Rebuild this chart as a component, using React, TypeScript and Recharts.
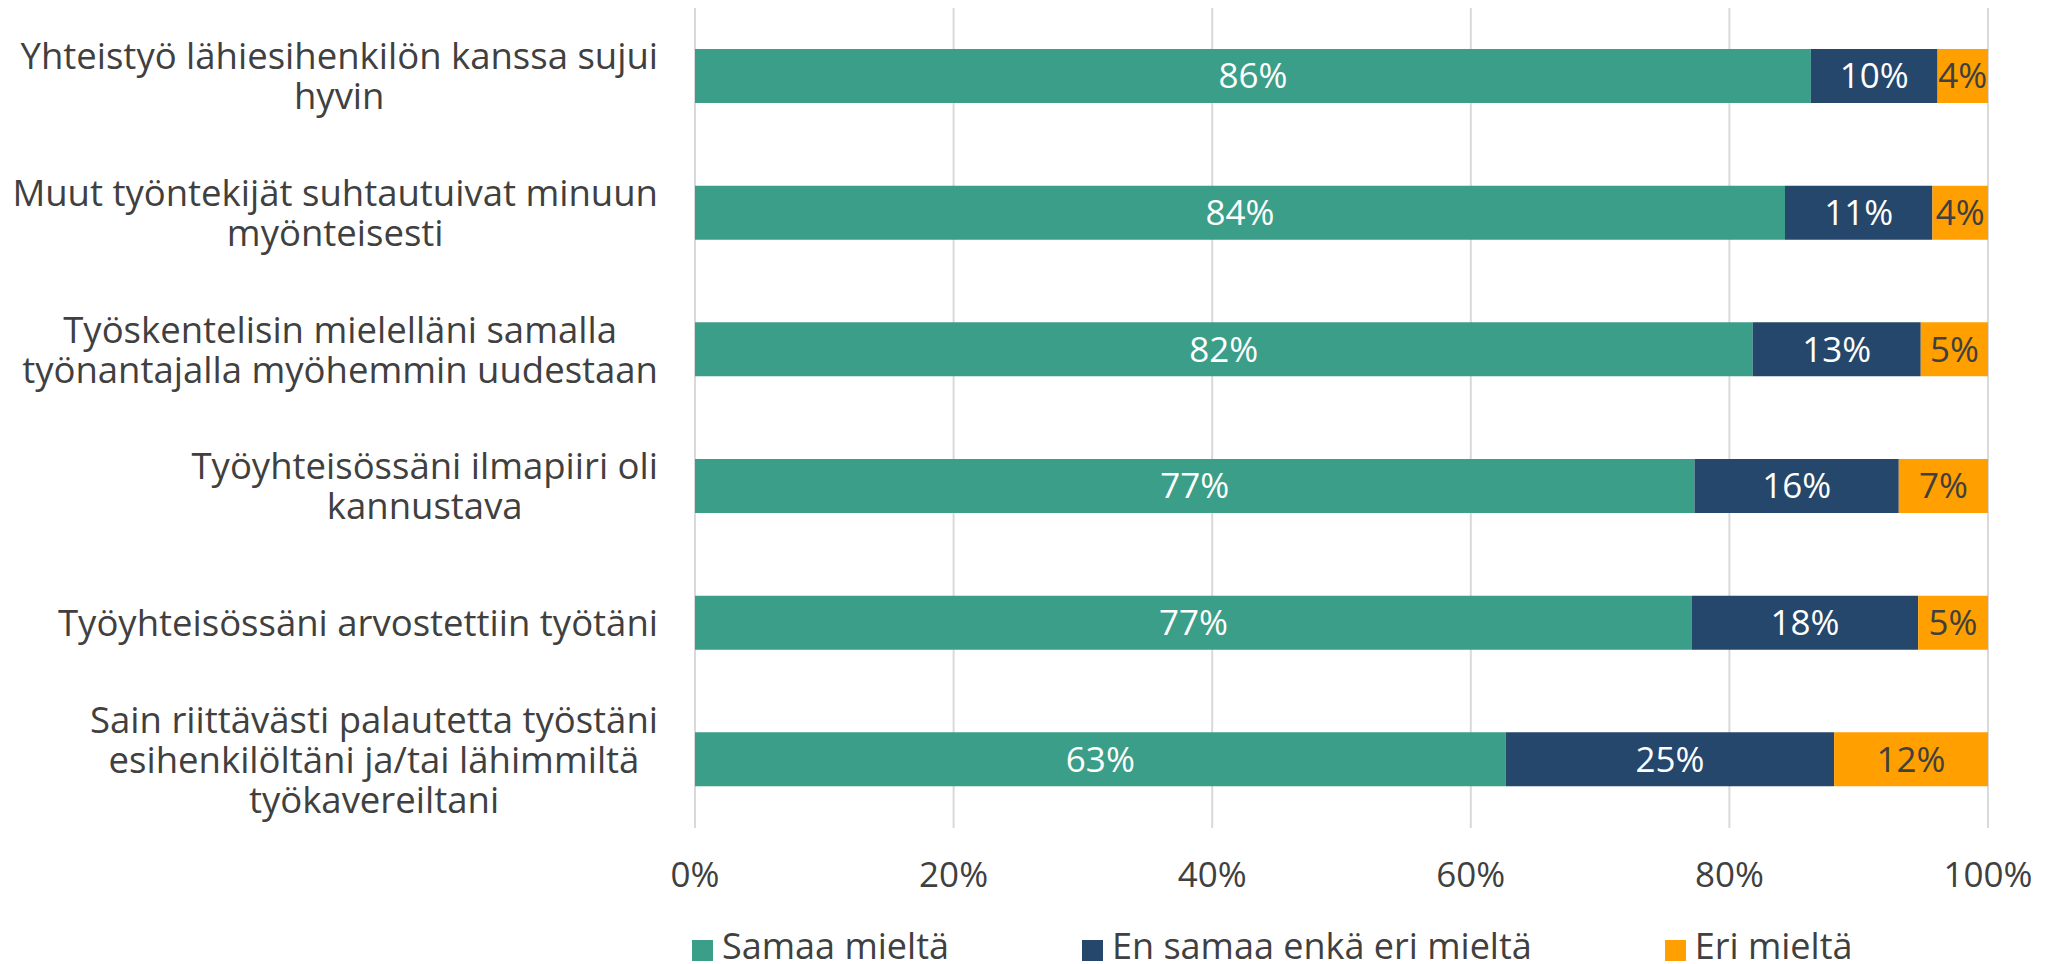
import React from 'react';
import {
  BarChart,
  Bar,
  XAxis,
  YAxis,
  CartesianGrid,
  LabelList,
} from 'recharts';

// categories, top to bottom ("\n" marks the line breaks of the axis labels)
const categories = [
  'Yhteistyö lähiesihenkilön kanssa sujui\nhyvin',
  'Muut työntekijät suhtautuivat minuun\nmyönteisesti',
  'Työskentelisin mielelläni samalla\ntyönantajalla myöhemmin uudestaan',
  'Työyhteisössäni ilmapiiri oli\nkannustava',
  'Työyhteisössäni arvostettiin työtäni',
  'Sain riittävästi palautetta työstäni\nesihenkilöltäni ja/tai lähimmiltä\ntyökavereiltani',
];

const samaaMielta = [86.3, 84.3, 81.8, 77.3, 77.1, 62.7];
const enSamaaEnkaEri = [9.8, 11.4, 13.0, 15.8, 17.5, 25.4];
const eriMielta = [3.9, 4.3, 5.2, 6.9, 5.4, 11.9];

const xTicks = [0, 20, 40, 60, 80, 100];

const FONT = '"Open Sans", sans-serif';
const TEXT = '#404040';

const series = [
  { key: 'samaa', name: 'Samaa mieltä', color: '#3A9E88', labelColor: '#ffffff' },
  { key: 'neutral', name: 'En samaa enkä eri mieltä', color: '#25476C', labelColor: '#ffffff' },
  { key: 'eri', name: 'Eri mieltä', color: '#FF9F00', labelColor: TEXT },
];

const data = categories.map((label, i) => ({
  label,
  samaa: samaaMielta[i],
  neutral: enSamaaEnkaEri[i],
  eri: eriMielta[i],
}));

const WIDTH = 2051;
const HEIGHT = 964;
const CAT_FONT = 36.5;
const LINE_H = 40;

// canvas is only used to measure label widths so the lines can be centred in their block
const measureCtx =
  typeof document !== 'undefined' ? document.createElement('canvas').getContext('2d') : null;

const textWidth = (s: string, size: number) => {
  if (!measureCtx) return s.length * size * 0.5;
  measureCtx.font = `${size}px "Open Sans"`;
  return measureCtx.measureText(s).width;
};

const CategoryTick = (props: any) => {
  const { x, y, payload } = props;
  const lines: string[] = String(payload.value).split('\n');
  const blockW = Math.max(...lines.map((l) => textWidth(l, CAT_FONT)));
  const cx = x - blockW / 2;
  const first = y - ((lines.length - 1) * LINE_H) / 2;
  return (
    <g>
      {lines.map((line, i) => (
        <text
          key={i}
          x={cx}
          y={first + i * LINE_H}
          dy="0.36em"
          textAnchor="middle"
          fontFamily={FONT}
          fontSize={CAT_FONT}
          fill={TEXT}
        >
          {line}
        </text>
      ))}
    </g>
  );
};

const pct = (v: any) => `${Math.round(Number(v))}%`;

export default function App() {
  return (
    <div style={{ position: 'relative', width: WIDTH, height: HEIGHT, background: '#fff' }}>
      <style>{'body { margin: 0; }'}</style>
      <BarChart
        width={WIDTH}
        height={HEIGHT}
        data={data}
        layout="vertical"
        margin={{ top: 8, right: 63, left: 0, bottom: 0 }}
        barSize={54}
      >
        <CartesianGrid horizontal={false} stroke="#d9d9d9" strokeWidth={2} />
        <XAxis
          type="number"
          domain={[0, 100]}
          ticks={xTicks}
          tickFormatter={pct}
          axisLine={false}
          tickLine={false}
          tickMargin={28}
          height={136}
          tick={{ fontSize: 35, fill: TEXT, fontFamily: FONT }}
          interval={0}
        />
        <YAxis
          type="category"
          dataKey="label"
          width={695}
          axisLine={false}
          tickLine={false}
          tickSize={0}
          tickMargin={37}
          tick={<CategoryTick />}
          interval={0}
        />
        {series.map((s) => (
          <Bar
            key={s.key}
            dataKey={s.key}
            name={s.name}
            stackId="a"
            fill={s.color}
            isAnimationActive={false}
          >
            <LabelList
              dataKey={s.key}
              position="center"
              formatter={pct}
              fill={s.labelColor}
              fontSize={35}
              fontFamily={FONT}
            />
          </Bar>
        ))}
      </BarChart>
      <div
        style={{
          position: 'absolute',
          left: 692,
          top: 928,
          display: 'flex',
          alignItems: 'center',
          gap: 133,
          fontFamily: FONT,
          fontSize: 36,
          color: TEXT,
          lineHeight: '36px',
          whiteSpace: 'nowrap',
        }}
      >
        {series.map((s) => (
          <div key={s.key} style={{ display: 'flex', alignItems: 'center' }}>
            <span
              style={{
                display: 'inline-block',
                width: 21,
                height: 21,
                background: s.color,
                marginRight: 9,
                marginTop: 8,
              }}
            />
            <span>{s.name}</span>
          </div>
        ))}
      </div>
    </div>
  );
}
